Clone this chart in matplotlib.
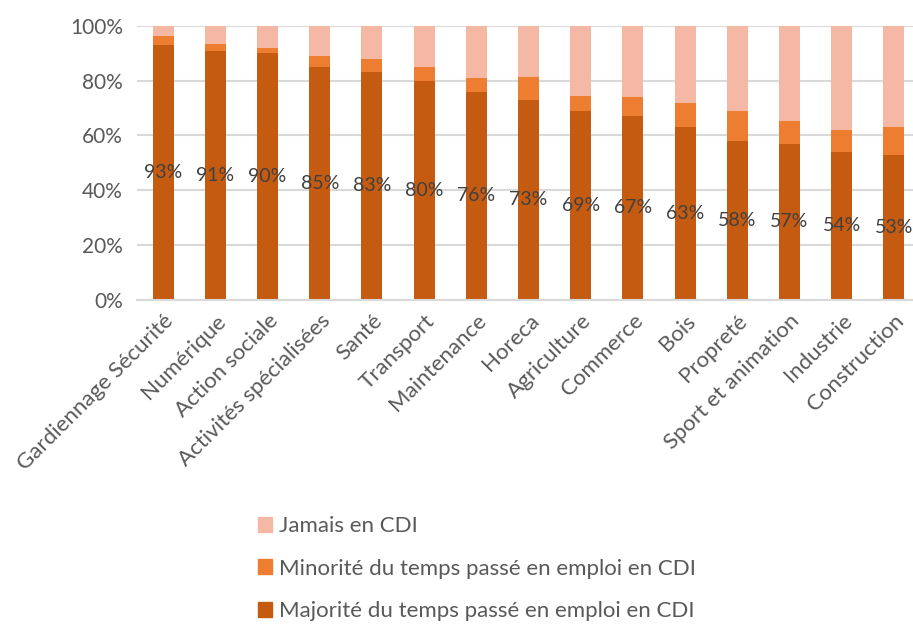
import numpy as np
import matplotlib
matplotlib.use("Agg")
import matplotlib.pyplot as plt
from matplotlib.patches import Patch

plt.rcParams['font.family'] = ['Lato', 'DejaVu Sans']

secteurs = ["Gardiennage Sécurité", "Numérique", "Action sociale", "Activités spécialisées",
            "Santé", "Transport", "Maintenance", "Horeca", "Agriculture", "Commerce",
            "Bois", "Propreté", "Sport et animation", "Industrie", "Construction"]
majorite = [93, 91, 90, 85, 83, 80, 76, 73, 69, 67, 63, 58, 57, 54, 53]
minorite = [3.4, 2.5, 2, 4, 5, 5, 5, 8.5, 5.3, 7, 9, 11, 8.4, 8, 10]
jamais = [100 - a - b for a, b in zip(majorite, minorite)]

c_maj = "#C55A11"
c_min = "#ED7D31"
c_jam = "#F4B8A4"
txt = "#595959"

fig = plt.figure(figsize=(9.13, 6.24), dpi=100)
ax = fig.add_axes([137 / 913, 1 - 299.5 / 624, 783 / 913, 273.5 / 624])

x = np.arange(len(secteurs))
w = 0.4
ax.bar(x, majorite, w, color=c_maj, zorder=2)
ax.bar(x, minorite, w, bottom=majorite, color=c_min, zorder=2)
ax.bar(x, jamais, w, bottom=np.array(majorite) + np.array(minorite), color=c_jam, zorder=2)

for xi, v in zip(x, majorite):
    ax.text(xi, v / 2, f"{v}%", ha="center", va="center", fontsize=14, color="#404040", zorder=3)

ax.set_xlim(-0.5, len(secteurs) - 0.5)
ax.set_ylim(0, 100)
ax.set_yticks(range(0, 101, 20))
ax.set_yticklabels([f"{v}%" for v in range(0, 101, 20)], fontsize=15, color=txt)
ax.yaxis.grid(True, color="#D9D9D9", linewidth=1.5, zorder=0)
ax.set_xticks(x)
ax.set_xticklabels(secteurs, rotation=45, ha="right", rotation_mode="anchor",
                   fontsize=16, color=txt)
ax.tick_params(axis="y", length=0, pad=10)
ax.tick_params(axis="x", length=0, pad=8)
for s in ["top", "right", "left"]:
    ax.spines[s].set_visible(False)
ax.spines["bottom"].set_color("#D9D9D9")
ax.spines["bottom"].set_linewidth(1.5)

handles = [Patch(color=c_jam), Patch(color=c_min), Patch(color=c_maj)]
labels = ["Jamais en CDI", "Minorité du temps passé en emploi en CDI",
          "Majorité du temps passé en emploi en CDI"]
leg = fig.legend(handles, labels, loc="upper left", bbox_to_anchor=(238 / 913, 1 - 496 / 624),
                 frameon=False, fontsize=16, labelspacing=1.02, handlelength=0.65,
                 handleheight=0.65, handletextpad=0.3, labelcolor=txt)

fig.savefig("out.png", dpi=100)
